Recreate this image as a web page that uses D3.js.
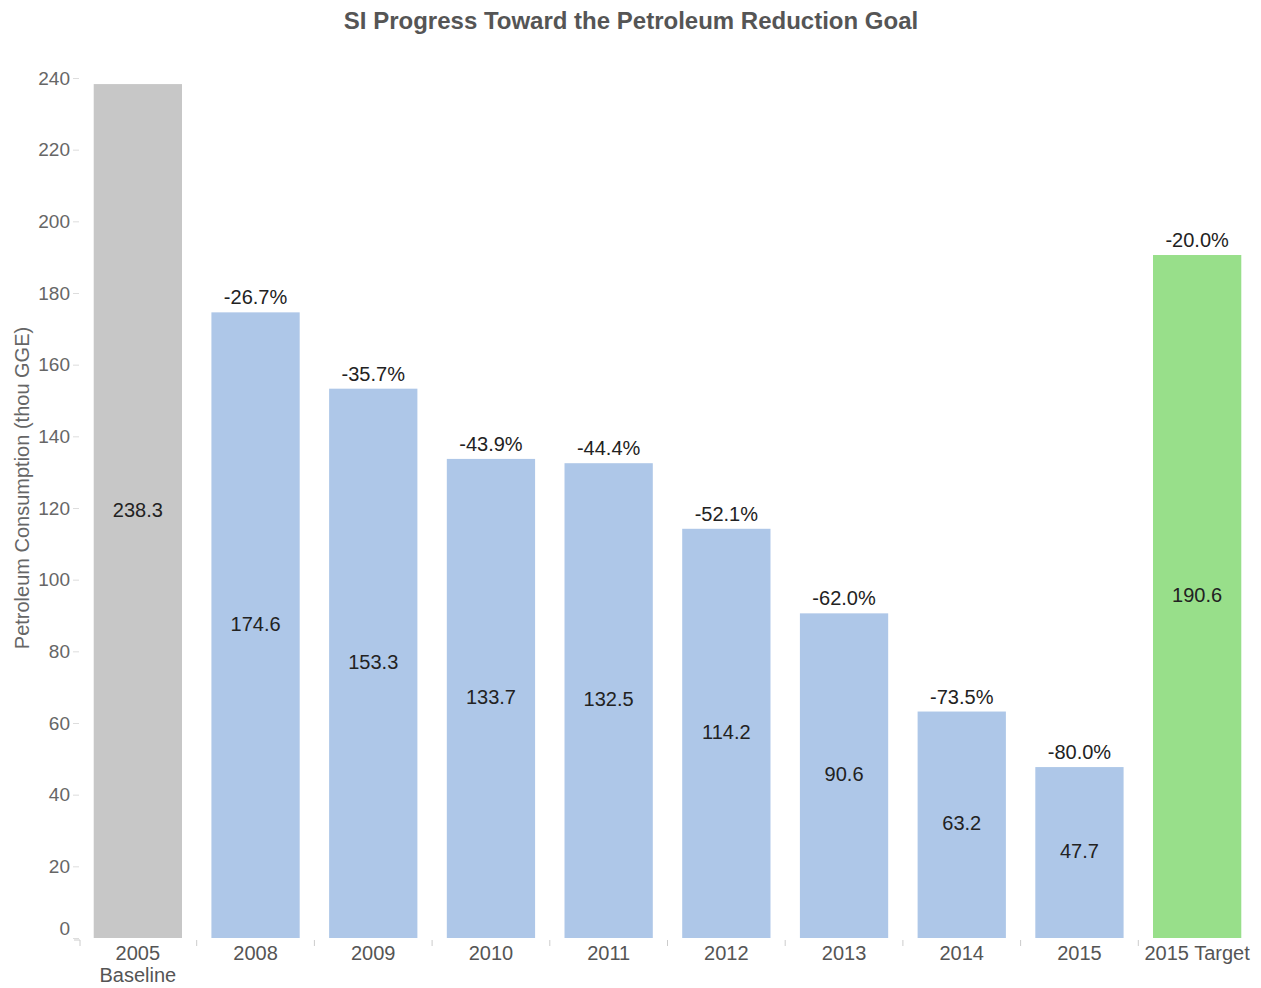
<!DOCTYPE html>
<html>
<head>
<meta charset="utf-8">
<script src="https://cdn.jsdelivr.net/npm/d3@7"></script>
<style>
  body { margin: 0; background: #fff; }
  svg text { font-family: "Liberation Sans", Arial, sans-serif; }
</style>
</head>
<body>
<div id="chart"></div>
<script>
var categories = ["2005\nBaseline", "2008", "2009", "2010", "2011", "2012", "2013", "2014", "2015", "2015 Target"];
var values = [238.3, 174.6, 153.3, 133.7, 132.5, 114.2, 90.6, 63.2, 47.7, 190.6];
var changes = [null, "-26.7%", "-35.7%", "-43.9%", "-44.4%", "-52.1%", "-62.0%", "-73.5%", "-80.0%", "-20.0%"];
var kinds = ["base", "year", "year", "year", "year", "year", "year", "year", "year", "target"];
var yTicks = [0, 20, 40, 60, 80, 100, 120, 140, 160, 180, 200, 220, 240];

var colors = { base: "#c7c7c7", year: "#aec7e8", target: "#98df8a" };

var width = 1261, height = 988;
var svg = d3.select("#chart").append("svg")
    .attr("width", width)
    .attr("height", height);

var x = d3.scaleBand()
    .domain(categories)
    .range([79, 1256])
    .paddingInner(0.25)
    .paddingOuter(0.125);

var y = d3.scaleLinear()
    .domain([0, 240])
    .range([938, 78]);

// title
svg.append("text")
    .attr("x", 631)
    .attr("y", 29)
    .attr("text-anchor", "middle")
    .attr("font-size", 24)
    .attr("font-weight", "bold")
    .attr("fill", "#555")
    .text("SI Progress Toward the Petroleum Reduction Goal");

// y axis
var yAxis = svg.append("g")
    .attr("transform", "translate(79,0)")
    .call(d3.axisLeft(y).tickValues(yTicks).tickSize(6).tickPadding(3));
yAxis.select(".domain").remove();
yAxis.selectAll(".tick line").attr("stroke", "#ddd");
yAxis.selectAll(".tick text")
    .attr("font-size", 19)
    .attr("fill", "#666")
    .attr("dy", function (d) { return d === 0 ? "-0.2em" : "0.32em"; });

svg.append("text")
    .attr("transform", "translate(29,488) rotate(-90)")
    .attr("text-anchor", "middle")
    .attr("font-size", 20)
    .attr("fill", "#666")
    .text("Petroleum Consumption (thou GGE)");

// category separators
var seps = categories.map(function (c) { return x(c) - x.step() * x.paddingInner() / 2; });
seps[0] = 80;
svg.append("g").selectAll("line")
    .data(seps).enter().append("line")
    .attr("x1", function (d) { return d; })
    .attr("x2", function (d) { return d; })
    .attr("y1", 940)
    .attr("y2", 946)
    .attr("stroke", "#ccc");
svg.append("line")
    .attr("x1", 74).attr("x2", 80)
    .attr("y1", 940).attr("y2", 940)
    .attr("stroke", "#ccc");

// bars
var data = categories.map(function (c, i) {
    return { cat: c, value: values[i], change: changes[i], kind: kinds[i] };
});

svg.append("g").selectAll("rect")
    .data(data).enter().append("rect")
    .attr("x", function (d) { return x(d.cat); })
    .attr("y", function (d) { return y(d.value); })
    .attr("width", x.bandwidth())
    .attr("height", function (d) { return y(0) - y(d.value); })
    .attr("fill", function (d) { return colors[d.kind]; });

// values inside bars
svg.append("g").selectAll("text")
    .data(data).enter().append("text")
    .attr("x", function (d) { return x(d.cat) + x.bandwidth() / 2; })
    .attr("y", function (d) { return (y(d.value) + y(0)) / 2; })
    .attr("dy", "0.28em")
    .attr("text-anchor", "middle")
    .attr("font-size", 20)
    .attr("fill", "#222")
    .text(function (d) { return d.value.toFixed(1); });

// percent labels above bars
svg.append("g").selectAll("text")
    .data(data.filter(function (d) { return d.change; })).enter().append("text")
    .attr("x", function (d) { return x(d.cat) + x.bandwidth() / 2; })
    .attr("y", function (d) { return y(d.value) - 8; })
    .attr("text-anchor", "middle")
    .attr("font-size", 20)
    .attr("fill", "#222")
    .text(function (d) { return d.change; });

// x labels
var xl = svg.append("g").selectAll("text")
    .data(categories).enter().append("text")
    .attr("x", function (d) { return x(d) + x.bandwidth() / 2; })
    .attr("y", 960)
    .attr("text-anchor", "middle")
    .attr("font-size", 20)
    .attr("fill", "#555");
xl.each(function (d) {
    var t = d3.select(this);
    d.split("\n").forEach(function (line, i) {
        t.append("tspan")
            .attr("x", x(d) + x.bandwidth() / 2)
            .attr("dy", i === 0 ? 0 : 22)
            .text(line);
    });
});
</script>
</body>
</html>
